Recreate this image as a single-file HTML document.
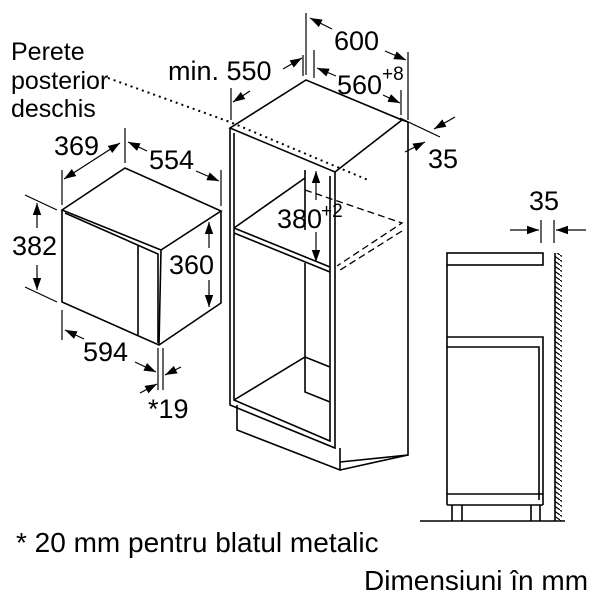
<!DOCTYPE html>
<html><head><meta charset="utf-8"><style>
html,body{margin:0;padding:0;background:#fff;}
svg{display:block;}
text{font-family:"Liberation Sans",sans-serif;fill:#000;}
</style></head><body>
<svg width="600" height="600" viewBox="0 0 600 600" xmlns="http://www.w3.org/2000/svg">
<defs>
<marker id="a" viewBox="0 0 10 10" refX="10" refY="5" markerWidth="12" markerHeight="12" orient="auto-start-reverse" markerUnits="userSpaceOnUse"><path d="M0,1.5 L10,5 L0,8.5 z" fill="#000"/></marker>
<pattern id="h" width="7" height="5" patternUnits="userSpaceOnUse"><path d="M0,0 L7,5" stroke="#000" stroke-width="1.2"/></pattern>
</defs>
<g stroke="#000" stroke-width="1.6" fill="none">
<path d="M62,210 L125,168 L221,211 L161,250 Z"/>
<path d="M62,210 L62,302 L159,345 L221,303 L221,211"/>
<path d="M161,250 L159,345"/>
<path d="M65,213 L158,254 L158,343"/>
<path d="M138,246 L138,335"/>
<path d="M62,170 V205 M125,128 V163 M221,170 V206" stroke-width="1.2"/>
<path d="M64,179 L120,143" marker-start="url(#a)" marker-end="url(#a)" stroke-width="1.2"/>
<path d="M147,151 L128,142" marker-end="url(#a)" stroke-width="1.2"/>
<path d="M196,171 L219,181" marker-end="url(#a)" stroke-width="1.2"/>
<path d="M25,195 L57,210 M25,287 L57,302" stroke-width="1.2"/>
<path d="M37,228 L37,203" marker-end="url(#a)" stroke-width="1.2"/>
<path d="M37,265 L37,290" marker-end="url(#a)" stroke-width="1.2"/>
<path d="M209,248 L209,222" marker-end="url(#a)" stroke-width="1.2"/>
<path d="M209,280 L209,307" marker-end="url(#a)" stroke-width="1.2"/>
<path d="M62,310 V340 M158,348 V390 M163,348 V390" stroke-width="1.2"/>
<path d="M84,339 L65,330" marker-end="url(#a)" stroke-width="1.2"/>
<path d="M135,362 L156,372" marker-end="url(#a)" stroke-width="1.2"/>
<path d="M140,393 L157,384" marker-end="url(#a)" stroke-width="1.2"/>
<path d="M181,367 L165,375" marker-end="url(#a)" stroke-width="1.2"/>
<path d="M230,128 L306,80 L402,120 L335,172 Z"/>
<path d="M230,128 V405 L335,448 V172"/>
<path d="M234,133 V400 L330,441 V176"/>
<path d="M408,122 V455 L340,462"/>
<path d="M402,120 L408,122"/>
<path d="M237,405 V430 L340,470 V448"/>
<path d="M340,470 L408,455"/>
<path d="M234,228 L330,267 M234,233 L330,272 M234,228 L305,178"/>
<path d="M305,170 V230 M305,263 V392 L330,402"/>
<path d="M234,400 L305,357 L330,367"/>
<path d="M305,190 L402,223 L337,266 M402,231 L337,272" stroke-dasharray="7,4" stroke-width="1.3"/>
<path d="M108,78 L230,122 L368,180" stroke-dasharray="2,4" stroke-width="2"/>
<path d="M306,13 V75 M408,52 V120 M314,50 V78 M401,90 V115 M231,88 V120 M303,55 V76" stroke-width="1.2"/>
<path d="M332,29 L310,18" marker-end="url(#a)" stroke-width="1.2"/>
<path d="M385,51 L406,60" marker-end="url(#a)" stroke-width="1.2"/>
<path d="M336,76 L317,68" marker-end="url(#a)" stroke-width="1.2"/>
<path d="M383,95 L400,103" marker-end="url(#a)" stroke-width="1.2"/>
<path d="M250,91 L233,102" marker-end="url(#a)" stroke-width="1.2"/>
<path d="M283,69 L302,58" marker-end="url(#a)" stroke-width="1.2"/>
<path d="M316,200 L316,171" marker-end="url(#a)" stroke-width="1.2"/>
<path d="M316,232 L316,262" marker-end="url(#a)" stroke-width="1.2"/>
<path d="M400,118 L440,137" stroke-width="1.2"/>
<path d="M455,117 L434,129" marker-end="url(#a)" stroke-width="1.2"/>
<path d="M405,152 L425,142" marker-end="url(#a)" stroke-width="1.2"/>
<rect x="447" y="253" width="96" height="12"/>
<path d="M447,265 V505 M447,337 H543 V505 M447,347 H539 V500 M447,494 H543 M447,505 H543"/>
<path d="M452,505 V521 M462,505 V521 M531,505 V521 M540,505 V521"/>
<path d="M420,521 H565"/>
<rect x="555" y="253" width="7" height="268" fill="url(#h)" stroke="none"/>
<path d="M555,253 V521"/>
<path d="M541,220 V243 M554,220 V243" stroke-width="1.2"/>
<path d="M510,230 L539,230" marker-end="url(#a)" stroke-width="1.2"/>
<path d="M586,230 L556,230" marker-end="url(#a)" stroke-width="1.2"/>
</g>
<g font-size="27">
<text x="11" y="60" font-size="25">Perete</text>
<text x="11" y="89" font-size="25">posterior</text>
<text x="11" y="117" font-size="25">deschis</text>
<text x="168" y="80">min. 550</text>
<text x="334" y="50">600</text>
<text x="337" y="94">560</text><text x="382" y="80" font-size="19">+8</text>
<text x="54" y="155">369</text>
<text x="149" y="169">554</text>
<text x="12" y="255">382</text>
<text x="169" y="274">360</text>
<text x="83" y="361">594</text>
<text x="148" y="418">*19</text>
<text x="277" y="228">380</text><text x="321" y="217" font-size="19">+2</text>
<text x="428" y="168">35</text>
<text x="529" y="210">35</text>
<text x="16" y="552" font-size="28">* 20 mm pentru blatul metalic</text>
<text x="364" y="590" font-size="28">Dimensiuni în mm</text>
</g>
</svg>
</body></html>
